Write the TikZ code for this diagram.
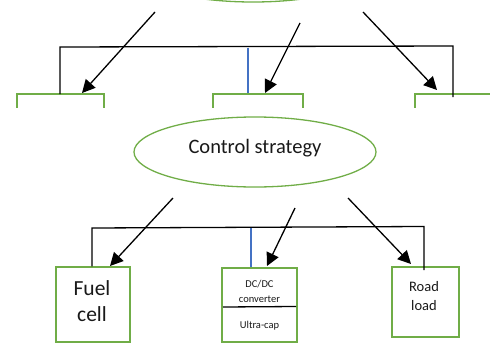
\documentclass[tikz,border=0pt]{standalone}
\usepackage{fontspec}
\setmainfont{Carlito}
\usetikzlibrary{arrows.meta,shapes.geometric}
\definecolor{boxgreen}{RGB}{112,173,71}
\definecolor{linkblue}{RGB}{68,114,196}
\begin{document}
\begin{tikzpicture}[x=1pt,y=-1pt,
  box/.style={draw=boxgreen, line width=1.3pt, rectangle, inner sep=0pt},
  oval/.style={draw=boxgreen, line width=1.3pt, ellipse, inner sep=0pt, minimum width=242pt, minimum height=70pt},
  arr/.style={draw=black, line width=1.3pt, -{Triangle[length=13pt,width=13pt]}},
  link/.style={draw=black, line width=1.3pt},
  bus/.style={draw=linkblue, line width=1.2pt},
  txt/.style={inner sep=0pt, align=center, text=black!90}]
\useasboundingbox (0,0) rectangle (490,348);
\clip (0,0) rectangle (490,348);

% ---- top (cut-off) repetition ----
\node[oval] (topcs) at (253,-33) {};
\begin{scope}
  \clip (0,0) rectangle (490,107);
  \node[box, minimum width=87pt, minimum height=74pt] (tfc) at (60.5,131) {};
  \node[box, minimum width=90pt, minimum height=74pt] (tdc) at (258,131) {};
  \node[box, minimum width=80pt, minimum height=74pt] (trl) at (455,131) {};
\end{scope}
\coordinate (ta1) at (155,12);
\coordinate (ta2) at (300,23);
\coordinate (ta3) at (363,12);
\coordinate (tb1) at (82,93);
\coordinate (tb2) at (265,93);
\coordinate (tb3) at (437,90);
\coordinate (tl) at (60,47);
\coordinate (tr) at (453,46);
\draw[link] (60,94) -- (tl) -- (tr) -- (453,97);
\draw[bus] (248,47.5) -- (tdc.north -| 248,0);
\draw[arr] (ta1) -- (tb1);
\draw[arr] (ta2) -- (tb2);
\draw[arr] (ta3) -- (tb3);

% ---- main diagram ----
\node[oval] (cs) at (255,152) {};
\node[txt, font=\fontsize{20.5}{24}\selectfont] (cst) at (255,148) {Control strategy};

\node[box, minimum width=74pt, minimum height=75pt] (fc) at (93,304.5) {};
\node[txt, font=\fontsize{21.5}{26}\selectfont] (fct) at (92,301) {Fuel\\cell};

\node[box, minimum width=75pt, minimum height=74pt] (dc) at (259.5,305) {};
\coordinate (dl) at (223,307);
\coordinate (dr) at (296,306.5);
\draw[link] (dl) -- (dr);
\node[txt, font=\fontsize{10.5}{15}\selectfont] (dct) at (259.5,291) {DC/DC\\converter};
\node[txt, font=\fontsize{10.5}{15}\selectfont] (uct) at (259.5,326) {Ultra-cap};

\node[box, minimum width=67pt, minimum height=70pt] (rl) at (425.5,302) {};
\node[txt, font=\fontsize{14.5}{19}\selectfont] (rlt) at (424,296) {Road\\load};

\coordinate (a1) at (173,198);
\coordinate (a2) at (295,208);
\coordinate (a3) at (348,198);
\coordinate (b1) at (110,266);
\coordinate (b2) at (267,266);
\coordinate (b3) at (411,264);
\coordinate (bl) at (92,228);
\coordinate (br) at (424,226.5);
\draw[link] (fc.north -| bl) -- (bl) -- (br) -- (424,270);
\draw[bus] (251,228) -- (dc.north -| 251,0);
\draw[arr] (a1) -- (b1);
\draw[arr] (a2) -- (b2);
\draw[arr] (a3) -- (b3);
\end{tikzpicture}
\end{document}
